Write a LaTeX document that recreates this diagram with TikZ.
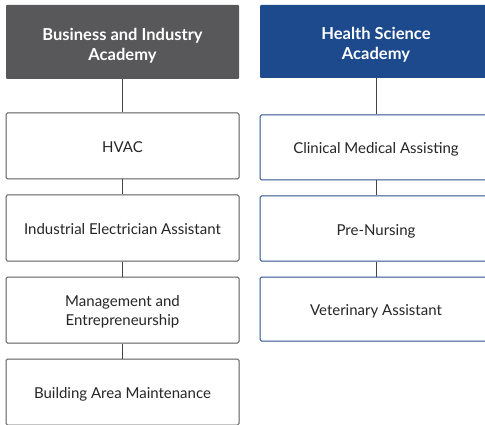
\documentclass[tikz,border=0pt]{standalone}
\usepackage{fontspec}
\setmainfont{Lato}
\definecolor{hdgray}{HTML}{58585A}
\definecolor{hdblue}{HTML}{1C4A8D}
\definecolor{bdgray}{HTML}{5A5A5A}
\definecolor{bdblue}{HTML}{2B4F8F}
\definecolor{lngray}{HTML}{444444}
\begin{document}
\begin{tikzpicture}[x=1pt,y=-1pt,
  hdr/.style={rectangle, rounded corners=1pt, inner sep=0pt},
  hdrtext/.style={text=white, font=\fontsize{16.5}{20}\selectfont\bfseries, align=center, inner sep=0pt},
  lbox/.style={rectangle, rounded corners=1.5pt, draw=bdgray, line width=1pt, fill=white, minimum width=233pt, minimum height=66pt, font=\fontsize{15}{19}\selectfont, text=black!85, text height=15pt, text depth=2pt},
  rbox/.style={rectangle, rounded corners=1.5pt, draw=bdblue, line width=1pt, fill=white, minimum width=232pt, minimum height=65pt, font=\fontsize{15}{19}\selectfont, text=black!85, text height=15pt, text depth=2pt},
  bodytext/.style={align=center, font=\fontsize{15}{19}\selectfont, text=black!85, inner sep=0pt},
  conn/.style={draw=lngray, line width=1pt}]
\useasboundingbox (0,0) rectangle (485,425);
\fill[white] (0,0) rectangle (485,425);
% left column
\node[hdr, fill=hdgray, minimum width=233pt, minimum height=74pt] (bia) at (122.5,42) {};
\node[hdrtext] (biat) at ([yshift=-3.5pt]bia.center) {Business and Industry\\Academy};
\node[lbox] (hvac) at (122.5,146) {HVAC};
\node[lbox] (iea) at (122.5,228) {Industrial Electrician Assistant};
\node[lbox, text height=0pt, text depth=0pt] (mae) at (122.5,310) {};
\node[bodytext] (maet) at ([yshift=-2pt]mae.center) {Management and\\Entrepreneurship};
\node[lbox] (bam) at (122.5,392) {Building Area Maintenance};
% right column
\node[hdr, fill=hdblue, minimum width=232pt, minimum height=73pt] (hsa) at (376,41.5) {};
\node[hdrtext] (hsat) at ([yshift=-3.5pt]hsa.center) {Health Science\\Academy};
\node[rbox] (cma) at (376,147.5) {Clinical Medical Assisting};
\node[rbox] (pn) at (376,228.5) {Pre-Nursing};
\node[rbox, minimum height=64pt] (va) at (376,309) {Veterinary Assistant};
% connectors
\draw[conn] (bia.south) -- (hvac.north);
\draw[conn] (hvac.south) -- (iea.north);
\draw[conn] (iea.south) -- (mae.north);
\draw[conn] (mae.south) -- (bam.north);
\draw[conn] (hsa.south) -- (cma.north);
\draw[conn] (cma.south) -- (pn.north);
\draw[conn] (pn.south) -- (va.north);
\end{tikzpicture}
\end{document}
